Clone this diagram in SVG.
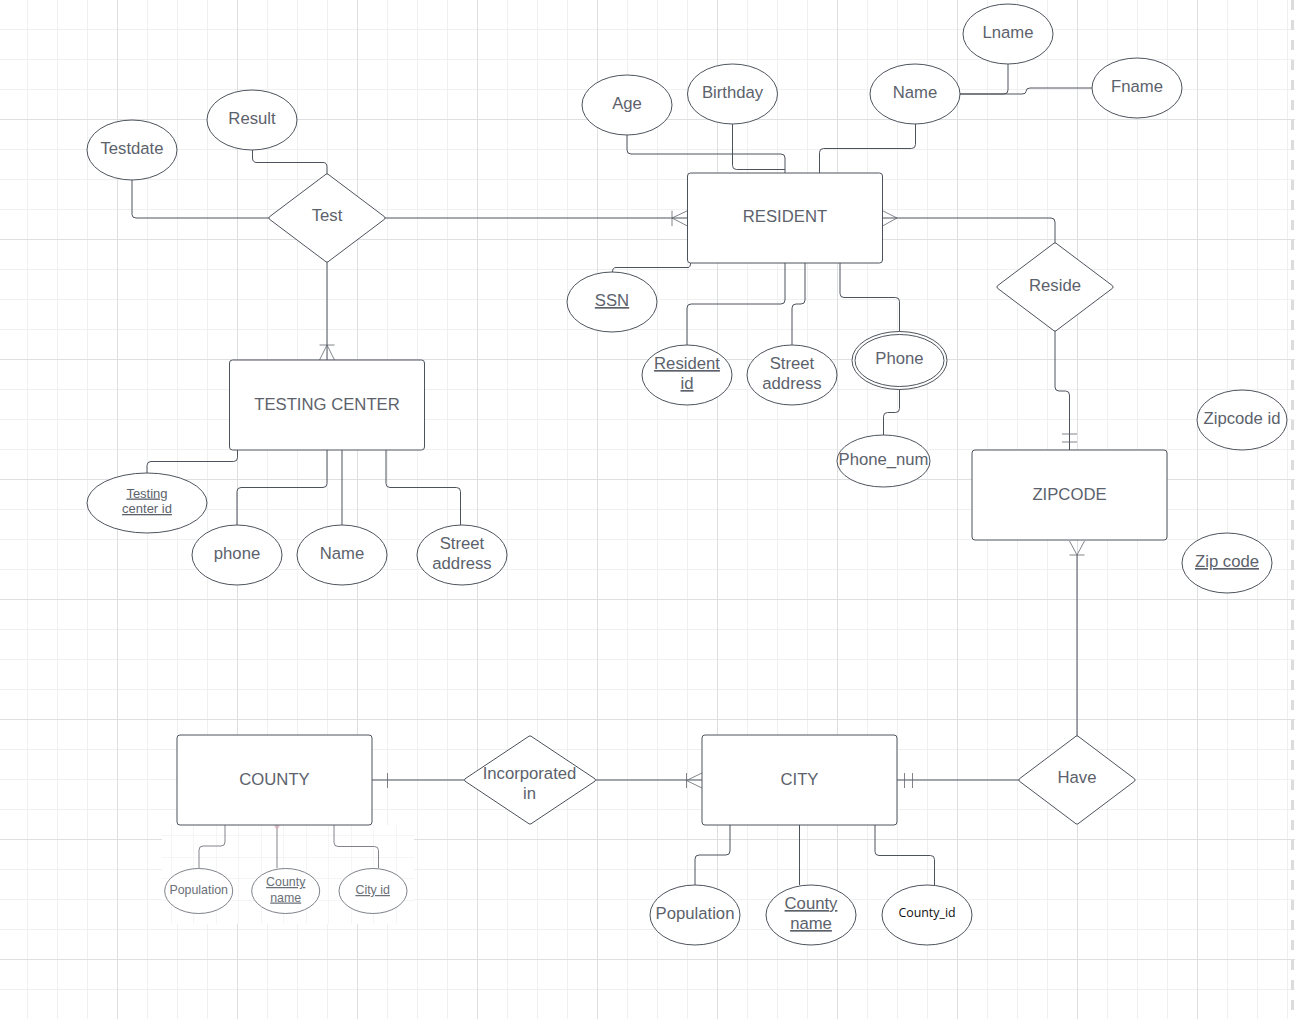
<svg xmlns="http://www.w3.org/2000/svg" width="1295" height="1019" viewBox="0 0 1295 1019">
<defs>
<style>
text{font-family:"Liberation Sans",Arial,sans-serif;font-size:16.7px;fill:#5c626c;text-anchor:middle}
text.u{text-decoration:underline}
text.s{font-size:13px}
text.p{font-size:12.4px;fill:#6a6f78}
text.o{font-family:"Open Sans","Noto Sans",sans-serif;font-size:12.4px;fill:#111}
.shape{fill:#fff;stroke:#4d535d;stroke-width:1}
.light{fill:#fff;stroke:#6f747c;stroke-width:.9}
.c{fill:none;stroke:#4d535d;stroke-width:1}
.c2{fill:none;stroke:#5f646c;stroke-width:.8}
.gf{stroke:#f0f0f1;stroke-width:1}
.gm{stroke:#dedfe1;stroke-width:1}
.gp{stroke:#f5f5f5;stroke-width:1}
</style>
<path id="gf" d="M27.5 0V1019M57.5 0V1019M87.5 0V1019M147.5 0V1019M177.5 0V1019M207.5 0V1019M267.5 0V1019M297.5 0V1019M327.5 0V1019M387.5 0V1019M417.5 0V1019M447.5 0V1019M507.5 0V1019M537.5 0V1019M567.5 0V1019M627.5 0V1019M657.5 0V1019M687.5 0V1019M747.5 0V1019M777.5 0V1019M807.5 0V1019M867.5 0V1019M897.5 0V1019M927.5 0V1019M987.5 0V1019M1017.5 0V1019M1047.5 0V1019M1107.5 0V1019M1137.5 0V1019M1167.5 0V1019M1227.5 0V1019M1257.5 0V1019M1287.5 0V1019M0 29.5H1295M0 59.5H1295M0 89.5H1295M0 149.5H1295M0 179.5H1295M0 209.5H1295M0 269.5H1295M0 299.5H1295M0 329.5H1295M0 389.5H1295M0 419.5H1295M0 449.5H1295M0 509.5H1295M0 539.5H1295M0 569.5H1295M0 629.5H1295M0 659.5H1295M0 689.5H1295M0 749.5H1295M0 779.5H1295M0 809.5H1295M0 869.5H1295M0 899.5H1295M0 929.5H1295M0 989.5H1295"/>
<path id="gm" d="M117.5 0V1019M237.5 0V1019M357.5 0V1019M477.5 0V1019M597.5 0V1019M717.5 0V1019M837.5 0V1019M957.5 0V1019M1077.5 0V1019M1197.5 0V1019M0 119.5H1295M0 239.5H1295M0 359.5H1295M0 479.5H1295M0 599.5H1295M0 719.5H1295M0 839.5H1295M0 959.5H1295"/>
</defs>
<rect width="1295" height="1019" fill="#fff"/>
<g id="grid">
<use href="#gf" class="gf"/>
<use href="#gm" class="gm"/>
<path d="M1292.5 0V1019" stroke="#dcdcdc" stroke-width="3" stroke-dasharray="10 10" fill="none"/>
</g>
<g id="patch">
<rect x="162" y="825" width="252" height="99" fill="#fff"/>
<path class="gp" d="M171.5 825V924M193.5 825V924M216.5 825V924M238.5 825V924M261.5 825V924M283.5 825V924M306.5 825V924M328.5 825V924M351.5 825V924M373.5 825V924M396.5 825V924M162 835.5H414M162 857.5H414M162 878.5H414M162 900.5H414"/>
</g>
<g id="connectors">
<path class="c" d="M132 180V214.5Q132 218 136 218H269"/>
<path class="c" d="M252.5 150V158Q252.5 162.5 257 162.5H323Q327 162.5 327 167V174"/>
<path class="c" d="M385 218H687"/>
<path class="c" d="M327 262V360"/>
<path class="c2" d="M672 218L687.5 210.7M672 218L687.5 226M672 210.7V226"/>
<path class="c2" d="M882.5 210.7L897 218L882.5 226"/>
<path class="c" d="M883 218H1051Q1055 218 1055 222V243"/>
<path class="c2" d="M319.5 360L327 345L334.5 360M319.5 345H334.5"/>
<path class="c" d="M627 135V150Q627 154 631 154H781Q785 154 785 158V173"/>
<path class="c" d="M732.5 124V165.5Q732.5 169.5 736.5 169.5H785"/>
<path class="c" d="M915.5 124V144.5Q915.5 148.5 911.5 148.5H823.5Q819.5 148.5 819.5 152.5V173"/>
<path class="c" d="M1008 64V90Q1008 94 1004 94H960"/>
<path class="c" d="M960 94H1022Q1026 94 1026 91.5Q1026 88 1030 88H1092"/>
<path class="c" d="M612.5 272Q612.5 267.5 616 267.5H688Q690.5 267.5 690.5 263"/>
<path class="c" d="M785 263V300Q785 304 781 304H691Q687 304 687 308V345"/>
<path class="c" d="M805 263V300Q805 304 801 304H796Q792 304 792 308V345"/>
<path class="c" d="M840 263V293.5Q840 297.5 844 297.5H895.5Q899.5 297.5 899.5 301.5V332"/>
<path class="c" d="M899.5 389V408.5Q899.5 412.5 895.5 412.5H887.5Q883.5 412.5 883.5 416.5V435"/>
<path class="c" d="M1055 331V387Q1055 391 1059 391H1065.5Q1069.5 391 1069.5 395V450"/>
<path class="c2" d="M1062 434H1077M1062 442H1077"/>
<path class="c" d="M1077 555V736"/>
<path class="c2" d="M1069.5 541L1077 555L1084.5 541M1069.5 555H1084.5"/>
<path class="c" d="M897 780H1019"/>
<path class="c2" d="M904.5 773V788M912.5 773V788"/>
<path class="c" d="M596 780H702"/>
<path class="c2" d="M686.5 780.5L702 773M686.5 780.5L702 788M686.5 773V788"/>
<path class="c" d="M372 780H464"/>
<path class="c2" d="M387.5 773V788"/>
<path class="c" d="M237.5 450V457.5Q237.5 461.5 233.5 461.5H151Q147 461.5 147 465.5V473"/>
<path class="c" d="M327 450V483.5Q327 487.5 323 487.5H241Q237 487.5 237 491.5V525"/>
<path class="c" d="M342 450V525"/>
<path class="c" d="M386 450V483.5Q386 487.5 390 487.5H456.5Q460.5 487.5 460.5 491.5V525"/>
<path class="c" d="M730 825V851Q730 855 726 855H699Q695 855 695 859V885"/>
<path class="c" d="M799.5 825V885"/>
<path class="c" d="M875 825V851.5Q875 855.5 879 855.5H930.5Q934.5 855.5 934.5 859.5V885"/>
<path class="c2" d="M225 825V842Q225 846 221 846H203Q199 846 199 850V868"/>
<path class="c2" d="M277 825V868"/>
<circle cx="277" cy="826" r="2" fill="none" stroke="#e8a0a8" stroke-width=".8"/>
<path class="c2" d="M334 825V842.5Q334 846.5 338 846.5H374.5Q378.5 846.5 378.5 850.5V868"/>
</g>
<g id="node-testdate"><ellipse class="shape" cx="132" cy="150" rx="45" ry="30"/><text x="132" y="154">Testdate</text></g>
<g id="node-result"><ellipse class="shape" cx="252" cy="120" rx="45" ry="30"/><text x="252" y="124">Result</text></g>
<g id="node-test"><path class="shape" d="M326 174.2Q327 173.6 328 174.2L384.6 216.8Q385.6 218 384.6 219.2L328 261.8Q327 262.4 326 261.8L269.4 219.2Q268.4 218 269.4 216.8Z"/><text x="327" y="221">Test</text></g>
<g id="node-age"><ellipse class="shape" cx="627" cy="105" rx="45" ry="30"/><text x="627" y="108.5">Age</text></g>
<g id="node-birthday"><ellipse class="shape" cx="732.5" cy="94" rx="45" ry="30"/><text x="732.5" y="97.5">Birthday</text></g>
<g id="node-name"><ellipse class="shape" cx="915" cy="94" rx="45" ry="30"/><text x="915" y="98">Name</text></g>
<g id="node-lname"><ellipse class="shape" cx="1008" cy="34" rx="45" ry="30"/><text x="1008" y="37.5">Lname</text></g>
<g id="node-fname"><ellipse class="shape" cx="1137" cy="88" rx="45" ry="30"/><text x="1137" y="91.5">Fname</text></g>
<g id="node-resident"><rect class="shape" x="687.5" y="173" width="195" height="90" rx="3"/><text x="785" y="222">RESIDENT</text></g>
<g id="node-ssn"><ellipse class="shape" cx="612" cy="302" rx="45" ry="30"/><text class="u" x="612" y="306">SSN</text></g>
<g id="node-resident-id"><ellipse class="shape" cx="687" cy="375" rx="45" ry="30"/><text class="u" x="687" y="369">Resident</text><text class="u" x="687" y="389">id</text></g>
<g id="node-street-address"><ellipse class="shape" cx="792" cy="375" rx="45" ry="30"/><text x="792" y="369">Street</text><text x="792" y="389">address</text></g>
<g id="node-phone"><ellipse class="shape" cx="899.5" cy="360.5" rx="47.5" ry="29"/><ellipse class="shape" cx="899.5" cy="360.5" rx="44.5" ry="26"/><text x="899.5" y="364">Phone</text></g>
<g id="node-phone-num"><ellipse class="shape" cx="883.5" cy="461" rx="46.5" ry="26"/><text x="883.5" y="465">Phone_num</text></g>
<g id="node-reside"><path class="shape" d="M1054 243.2Q1055 242.6 1056 243.2L1112.6 285.8Q1113.6 287 1112.6 288.2L1056 330.8Q1055 331.4 1054 330.8L997.4 288.2Q996.4 287 997.4 285.8Z"/><text x="1055" y="291">Reside</text></g>
<g id="node-zipcode-id"><ellipse class="shape" cx="1242" cy="420" rx="45" ry="30"/><text x="1242" y="424">Zipcode id</text></g>
<g id="node-zipcode"><rect class="shape" x="972" y="450" width="195" height="90" rx="3"/><text x="1069.5" y="499.5">ZIPCODE</text></g>
<g id="node-zip-code"><ellipse class="shape" cx="1227" cy="563" rx="45" ry="30"/><text class="u" x="1227" y="567">Zip code</text></g>
<g id="node-testing-center"><rect class="shape" x="229.5" y="360" width="195" height="90" rx="3"/><text x="327" y="409.5">TESTING CENTER</text></g>
<g id="node-testing-center-id"><ellipse class="shape" cx="147" cy="503" rx="60" ry="30"/><text class="s u" x="147" y="497.5">Testing</text><text class="s u" x="147" y="513">center id</text></g>
<g id="node-phone-tc"><ellipse class="shape" cx="237" cy="555" rx="45" ry="30"/><text x="237" y="559">phone</text></g>
<g id="node-name-tc"><ellipse class="shape" cx="342" cy="555" rx="45" ry="30"/><text x="342" y="559">Name</text></g>
<g id="node-street-tc"><ellipse class="shape" cx="462" cy="555" rx="45" ry="30"/><text x="462" y="549">Street</text><text x="462" y="569">address</text></g>
<g id="node-county"><rect class="shape" x="177" y="735" width="195" height="90" rx="3"/><text x="274.5" y="785">COUNTY</text></g>
<g id="node-incorporated"><path class="shape" d="M529 736.2Q530 735.6 531 736.2L595 778.8Q596 780 595 781.2L531 823.8Q530 824.4 529 823.8L465 781.2Q464 780 465 778.8Z"/><text x="529.5" y="779">Incorporated</text><text x="529.5" y="799">in</text></g>
<g id="node-city"><rect class="shape" x="702" y="735" width="195" height="90" rx="3"/><text x="799.5" y="785">CITY</text></g>
<g id="node-have"><path class="shape" d="M1076 736.2Q1077 735.6 1078 736.2L1134.6 778.8Q1135.6 780 1134.6 781.2L1078 823.8Q1077 824.4 1076 823.8L1019.4 781.2Q1018.4 780 1019.4 778.8Z"/><text x="1077" y="783">Have</text></g>
<g id="node-population-county"><ellipse class="light" cx="198.7" cy="891" rx="34" ry="22.5"/><text class="p" x="198.7" y="894">Population</text></g>
<g id="node-county-name-county"><ellipse class="light" cx="285.7" cy="891" rx="34" ry="22.5"/><text class="p u" x="285.7" y="886">County</text><text class="p u" x="285.7" y="901.5">name</text></g>
<g id="node-city-id"><ellipse class="light" cx="373" cy="891" rx="34" ry="22.5"/><text class="p u" x="372.7" y="894">City id</text></g>
<g id="node-population-city"><ellipse class="shape" cx="695" cy="915" rx="45" ry="30"/><text x="695" y="918.5">Population</text></g>
<g id="node-county-name-city"><ellipse class="shape" cx="811" cy="915" rx="45" ry="30"/><text class="u" x="811" y="909">County</text><text class="u" x="811" y="929">name</text></g>
<g id="node-county-id"><ellipse class="shape" cx="927" cy="915" rx="45" ry="30"/><text class="o" x="927" y="917">County_id</text></g>
</svg>
